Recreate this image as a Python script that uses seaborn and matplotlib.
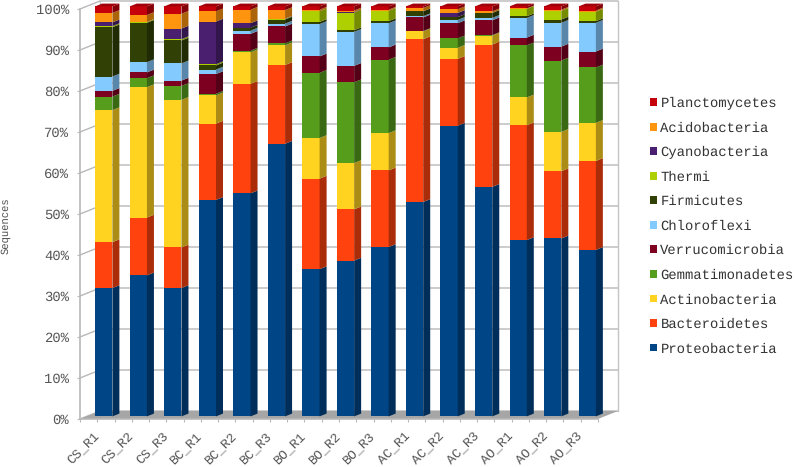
import numpy as np
import pandas as pd
import matplotlib
matplotlib.use("Agg")
import matplotlib.pyplot as plt
import matplotlib.colors as mc
from matplotlib.patches import Patch
from matplotlib.transforms import ScaledTranslation
import seaborn as sns

samples = ["CS_R1", "CS_R2", "CS_R3", "BC_R1", "BC_R2", "BC_R3", "BO_R1", "BO_R2",
           "BO_R3", "AC_R1", "AC_R2", "AC_R3", "AO_R1", "AO_R2", "AO_R3"]

proteobacteria = [31.3, 34.4, 31.3, 52.8, 54.4, 66.5, 35.9, 38.0, 41.3, 52.3, 70.9, 56.0, 43.0, 43.4, 40.6]
bacteroidetes = [11.2, 14.1, 9.9, 18.6, 26.7, 19.2, 22.1, 12.5, 18.7, 39.7, 16.3, 34.7, 28.0, 16.4, 21.7]
actinobacteria = [32.2, 31.8, 36.0, 6.9, 7.7, 4.8, 9.9, 11.3, 9.1, 1.9, 2.7, 2.2, 6.8, 9.6, 9.3]
gemmatimonadetes = [3.3, 2.2, 3.4, 0.4, 0.4, 0.5, 15.9, 19.7, 17.9, 0.1, 2.3, 0.1, 12.7, 17.4, 13.5]
verrucomicrobia = [1.4, 1.4, 1.3, 4.8, 4.1, 4.1, 4.0, 4.0, 3.0, 3.3, 3.7, 3.6, 1.9, 3.4, 3.9]
chloroflexi = [3.5, 2.5, 4.2, 1.1, 0.8, 0.7, 7.9, 8.3, 5.9, 0.3, 0.8, 0.6, 4.8, 5.8, 7.0]
firmicutes = [12.0, 9.6, 5.6, 1.0, 0.7, 1.0, 0.5, 0.4, 0.5, 1.2, 0.7, 1.2, 0.4, 0.8, 0.4]
thermi = [0.3, 0.2, 0.3, 0.3, 0.0, 0.1, 2.6, 4.3, 2.5, 0.0, 0.0, 0.0, 1.8, 2.1, 2.3]
cyanobacteria = [0.9, 0.0, 2.6, 10.4, 1.1, 0.1, 0.0, 0.1, 0.0, 0.0, 1.0, 0.0, 0.0, 0.0, 0.0]
acidobacteria = [2.3, 1.7, 3.6, 2.5, 3.3, 2.1, 0.4, 0.4, 0.3, 0.8, 0.9, 0.4, 0.1, 0.3, 0.3]
planctomycetes = [1.6, 2.1, 1.8, 1.2, 0.8, 0.9, 0.8, 1.0, 0.8, 0.4, 0.7, 1.2, 0.5, 0.8, 1.0]

names = ["Proteobacteria", "Bacteroidetes", "Actinobacteria", "Gemmatimonadetes", "Verrucomicrobia",
         "Chloroflexi", "Firmicutes", "Thermi", "Cyanobacteria", "Acidobacteria", "Planctomycetes"]
series = [proteobacteria, bacteroidetes, actinobacteria, gemmatimonadetes, verrucomicrobia,
          chloroflexi, firmicutes, thermi, cyanobacteria, acidobacteria, planctomycetes]
colors = ["#004586", "#ff420e", "#ffd320", "#579d1c", "#7e0021", "#83caff",
          "#314004", "#aecf00", "#4b1f6f", "#ff950e", "#c5000b"]
yticks = list(range(0, 101, 10))

FONT = "Liberation Mono"
GRID = "#b8b8b8"

sns.set_theme(style="white")
plt.rcParams["font.family"] = [FONT, "DejaVu Sans"]
plt.rcParams["text.hinting"] = "none"

W, H = 795, 467
fig = plt.figure(figsize=(W / 100, H / 100), dpi=100)
# front plane of the fake 3d box, pixels 80..598 / 9..419
ax = fig.add_axes([80 / W, 1 - 419 / H, 518 / W, 410 / H])

px_x = 518 / 15
px_y = 4.1
wall_x, wall_y = 20 / px_x, 8 / px_y     # front plane -> back wall
gap_x, gap_y = 6.5 / px_x, 2.6 / px_y    # front plane -> bar front
deep_x, deep_y = 7 / px_x, 2.8 / px_y    # bar depth
bar_w = 0.5

df = pd.DataFrame(dict(zip(names, series)), index=samples)
tops = df.cumsum(axis=1)
bottoms = tops.shift(1, axis=1).fillna(0)


def shade(color, k):
    r, g, b = mc.to_rgb(color)
    return (r * k, g * k, b * k)


# stacked fronts, tallest first so the lower ones paint over
for name, color in reversed(list(zip(names, colors))):
    sns.barplot(x=samples, y=tops[name].values, color=color, saturation=1, width=bar_w,
                ax=ax, order=samples, zorder=3, errorbar=None)
    for p in ax.patches[-len(samples):]:
        p.set_x(p.get_x() + gap_x)
        p.set_y(gap_y)
        p.set_clip_on(False)
        p.set_linewidth(0)

# side and top faces
for i in range(len(samples)):
    right = i + bar_w / 2 + gap_x
    left = i - bar_w / 2 + gap_x
    for name, color in zip(names, colors):
        y0 = bottoms[name].iloc[i] + gap_y
        y1 = tops[name].iloc[i] + gap_y
        ax.fill([right, right + deep_x, right + deep_x, right],
                [y0, y0 + deep_y, y1 + deep_y, y1],
                color=shade(color, 0.67), lw=0, zorder=3, clip_on=False)
    y1 = tops[names[-1]].iloc[i] + gap_y
    ax.fill([left, right, right + deep_x, left + deep_x],
            [y1, y1, y1 + deep_y, y1 + deep_y],
            color=shade(colors[-1], 0.82), lw=0, zorder=3, clip_on=False)

# floor and walls
x0, x1 = -0.5, len(samples) - 0.5
ax.fill([x0, x1, x1 + wall_x, x0 + wall_x], [0, 0, wall_y, wall_y],
        color="#a6a6a6", lw=0, zorder=1, clip_on=False)
for v in yticks:
    ax.plot([x0, x0 + wall_x, x1 + wall_x], [v, v + wall_y, v + wall_y],
            color=GRID, lw=1.0, zorder=0.5, clip_on=False)
ax.plot([x1 + wall_x, x1 + wall_x], [wall_y, 100 + wall_y], color="#c4c4c4", lw=1.0, zorder=0.5, clip_on=False)
ax.plot([x0 + wall_x, x0 + wall_x], [wall_y, 100 + wall_y], color="#c4c4c4", lw=1.0, zorder=0.5, clip_on=False)

ax.set_xlim(x0, x1)
ax.set_ylim(0, 100)
sns.despine(ax=ax, top=True, right=True)
for side in ["left", "bottom"]:
    ax.spines[side].set_color("#b8b8b8")
    ax.spines[side].set_linewidth(1.2)

ax.set_yticks(yticks)
ax.set_yticklabels([f"{v}%" for v in yticks], fontsize=10, color="#555555")
ax.set_xticks(range(len(samples)))
ax.set_xticks(np.arange(x0, x1 + 0.5), minor=True)
ax.set_xticklabels(samples, fontsize=9.5, color="#555555", rotation=45, ha="right", rotation_mode="anchor")
ax.tick_params(axis="y", length=2.5, width=0.8, color=GRID, pad=5.5, left=True)
ax.tick_params(axis="x", which="both", length=2.5, width=0.8, color=GRID, pad=5.6, bottom=True)
label_shift = ScaledTranslation(-4 / 100, 0, fig.dpi_scale_trans)
for lab in ax.get_xticklabels():
    lab.set_transform(lab.get_transform() + label_shift)
ax.set_xlabel("")
ax.set_ylabel("Sequences", fontsize=7.6, color="#4d4d4d")
ax.yaxis.set_label_coords(-69 / 518, 193 / 410)

handles = [Patch(facecolor=c, edgecolor="none", label=n) for n, c in zip(names, colors)]
fig.legend(handles=handles[::-1], loc="upper left", bbox_to_anchor=(650 / W, 1 - 97 / H),
           frameon=False, fontsize=10, labelcolor="#333333", borderpad=0, borderaxespad=0,
           handlelength=0.5, handleheight=0.5, handletextpad=0.25, labelspacing=0.827)

fig.savefig("out.png", dpi=100)
